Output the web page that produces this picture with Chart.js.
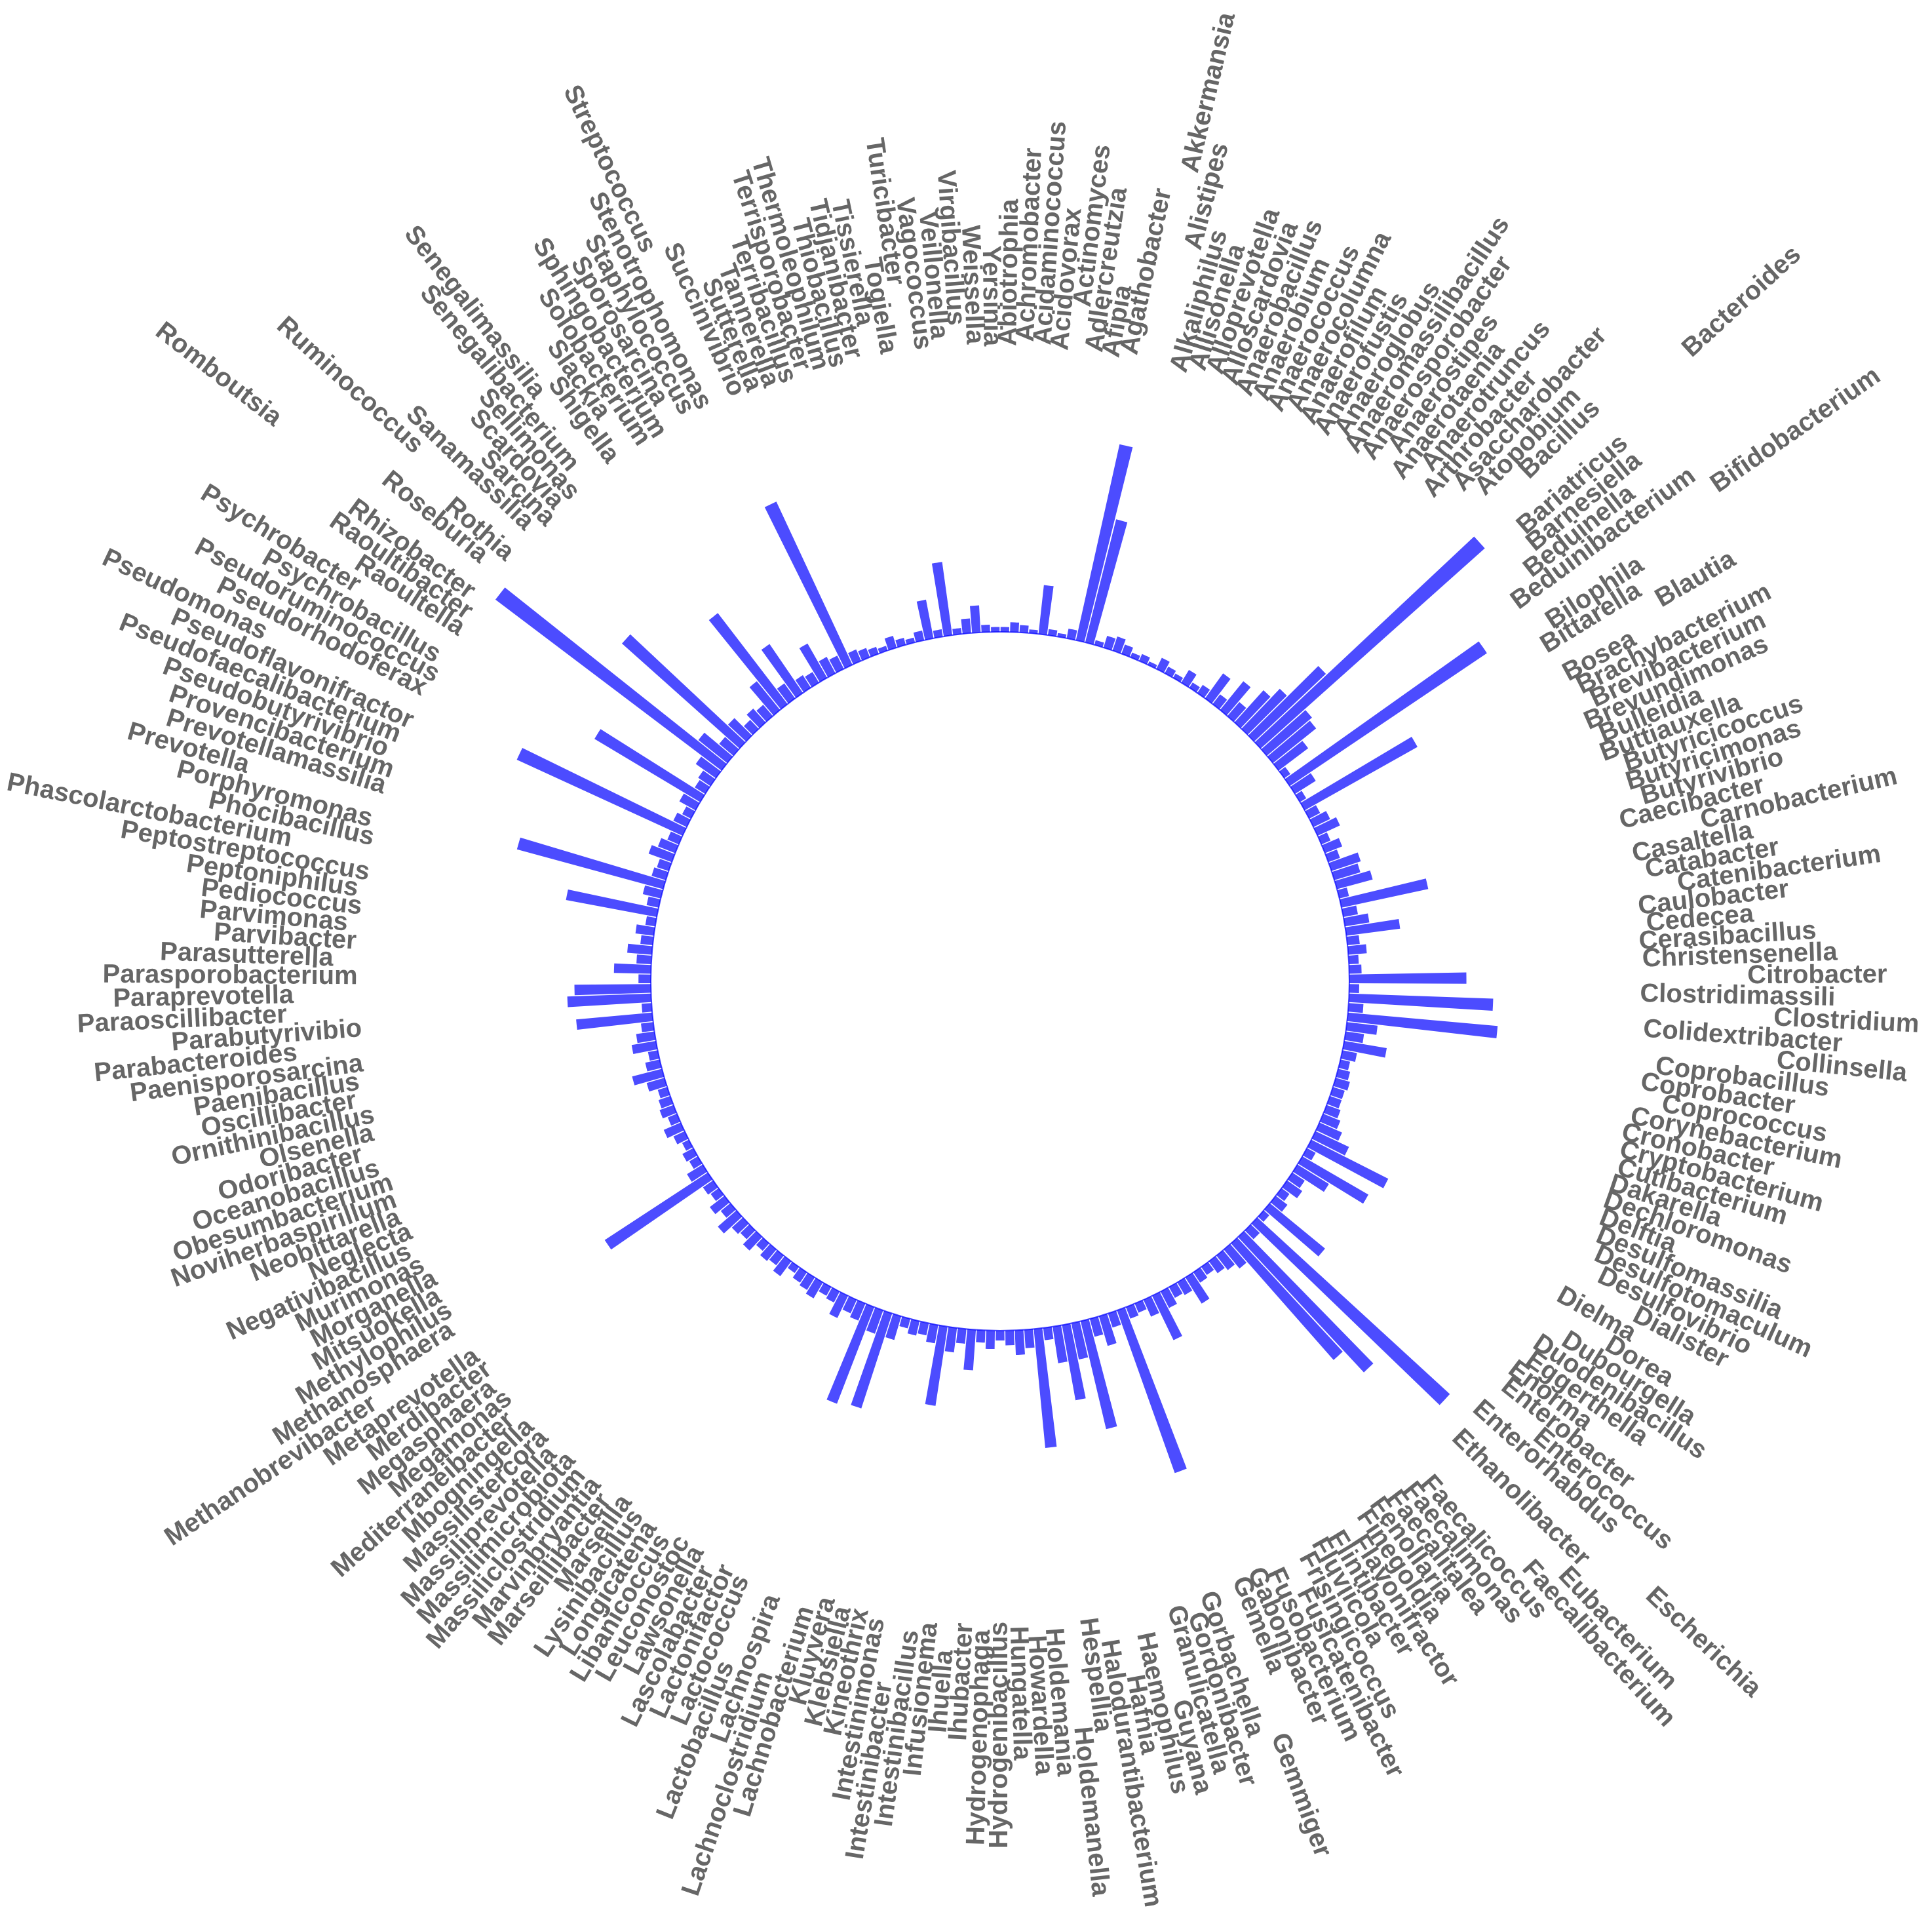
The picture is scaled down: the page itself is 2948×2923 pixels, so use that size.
<!DOCTYPE html>
<html>
<head>
<meta charset="utf-8">
<script src="https://cdn.jsdelivr.net/npm/chart.js@4.4.1/dist/chart.umd.min.js"></script>
<style>
html,body{margin:0;padding:0;background:#ffffff;}
#wrap{width:2948px;height:2923px;}
canvas{display:block;}
</style>
</head>
<body>
<div id="wrap"><canvas id="chart" width="2948" height="2923" style="width:2948px;height:2923px"></canvas></div>
<script>
// ---- data ----
const genera = [
"Abiotrophia","Achromobacter","Acidaminococcus","Acidovorax","Actinomyces","Adlercreutzia","Afipia","Agathobacter","Akkermansia","Alistipes",
"Alkaliphilus","Allisonella","Alloprevotella","Alloscardovia","Anaerobacillus","Anaerobium","Anaerococcus","Anaerocolumna","Anaerofilum","Anaerofustis",
"Anaeroglobus","Anaeromassilibacillus","Anaerosporobacter","Anaerostipes","Anaerotaenia","Anaerotruncus","Arthrobacter","Asaccharobacter","Atopobium","Bacillus",
"Bacteroides","Bariatricus","Barnesiella","Beduinella","Beduinibacterium","Bifidobacterium","Bilophila","Bittarella","Blautia","Bosea",
"Brachybacterium","Brevibacterium","Brevundimonas","Bulleidia","Buttiauxella","Butyricicoccus","Butyricimonas","Butyrivibrio","Caecibacter","Carnobacterium",
"Casaltella","Catabacter","Catenibacterium","Caulobacter","Cedecea","Cerasibacillus","Christensenella","Citrobacter","Clostridimassili","Clostridium",
"Colidextribacter","Collinsella","Coprobacillus","Coprobacter","Coprococcus","Corynebacterium","Cronobacter","Cryptobacterium","Cutibacterium","Dakarella",
"Dechloromonas","Delftia","Desulfomassilia","Desulfotomaculum","Desulfovibrio","Dialister","Dielma","Dorea","Dubourgella","Duodenibacillus",
"Eggerthella","Enorma","Enterobacter","Enterococcus","Enterorhabdus","Escherichia","Ethanolibacter","Eubacterium","Faecalibacterium","Faecalicoccus",
"Faecalimonas","Faecalitalea","Fenollaria","Finegoldia","Flavonifractor","Flintibacter","Fluviicola","Frisingicoccus","Fusicatenibacter","Fusobacterium",
"Gabonibacter","Gemella","Gemmiger","Gorbachella","Gordonibacter","Granulicatella","Guyana","Haemophilus","Hafnia","Halodurantibacterium",
"Hespellia","Holdemanella","Holdemania","Howardella","Hungatella","Hydrogenibacillus","Hydrogenophaga","Ihubacter","Ihuella","Infusionema",
"Intestinibacillus","Intestinibacter","Intestinimonas","Kineothrix","Klebsiella","Kluyvera","Lachnobacterium","Lachnoclostridium","Lachnospira","Lactobacillus",
"Lactococcus","Lactonifactor","Lascolabacter","Lawsonella","Leuconostoc","Libanicoccus","Longicatena","Lysinibacillus","Marseilla","Marseillibacter",
"Marvinbryantia","Massiliclostridium","Massilimicrobiota","Massiliprevotella","Massilistercora","Mbogningella","Mediterraneibacter","Megamonas","Megasphaera","Merdibacter",
"Metaprevotella","Methanobrevibacter","Methanosphaera","Methylophilus","Mitsuokella","Morganella","Murimonas","Negativibacillus","Neglecta","Neobittarella",
"Noviherbaspirillum","Obesumbacterium","Oceanobacillus","Odoribacter","Olsenella","Ornithinibacillus","Oscillibacter","Paenibacillus","Paenisporosarcina","Parabacteroides",
"Parabutyrivibio","Paraoscillibacter","Paraprevotella","Parasporobacterium","Parasutterella","Parvibacter","Parvimonas","Pediococcus","Peptoniphilus","Peptostreptococcus",
"Phascolarctobacterium","Phocibacillus","Porphyromonas","Prevotella","Prevotellamassilia","Provencibacterium","Pseudobutyrivibrio","Pseudofaecalibacterium","Pseudoflavonifractor","Pseudomonas",
"Pseudorhodoferax","Pseudoruminococcus","Psychrobacillus","Psychrobacter","Raoultella","Raoultibacter","Rhizobacter","Romboutsia","Roseburia","Rothia",
"Ruminococcus","Sanamassilia","Sarcina","Scardovia","Sellimonas","Senegalibacterium","Senegalimassilia","Shigella","Slackia","Solobacterium",
"Sphingobacterium","Sporosarcina","Staphylococcus","Stenotrophomonas","Streptococcus","Succinivibrio","Sutterella","Tannerella","Terribacillus","Terrisporobacter",
"Thermoleophilum","Thiobacillus","Tidjanibacter","Tissierella","Togiella","Turicibacter","Vagococcus","Veillonella","Virgibacillus","Weissella",
"Yersinia"
];

const abundance = [
0.4,0.8,0.6,0.3,4.0,0.5,0.3,0.8,16.3,10.3,
0.4,1.0,1.2,0.8,0.4,0.6,0.3,1.0,0.6,0.4,
1.2,0.5,0.8,2.5,1.0,3.0,1.5,3.5,4.5,8.0,
24.4,4.8,4.5,3.0,0.6,19.3,2.0,0.6,10.5,1.0,
1.5,2.0,0.8,1.5,1.0,2.5,2.2,3.0,0.8,7.2,
1.2,2.0,4.4,1.0,1.5,0.8,1.0,9.5,0.8,11.7,
1.2,12.2,2.5,1.5,3.5,1.2,0.8,1.0,1.2,1.0,
1.0,1.2,1.5,2.0,3.0,7.0,0.8,6.2,3.0,1.2,
1.5,0.8,1.2,5.8,0.6,21.2,1.0,15.0,12.6,2.0,
1.5,1.2,0.8,1.0,2.5,1.2,1.0,1.5,4.0,1.5,
0.8,1.0,14.0,1.2,2.5,1.5,9.0,3.0,6.2,3.0,
1.0,9.7,1.5,2.0,1.2,0.8,1.5,1.0,3.3,1.2,
2.0,6.5,1.5,1.0,1.2,0.8,2.0,8.1,2.0,8.4,
1.5,1.2,2.0,1.0,0.8,1.5,1.2,1.0,0.6,1.5,
1.0,1.2,0.8,1.5,1.0,1.2,2.0,1.0,1.5,0.8,
1.0,10.0,1.5,0.8,1.0,0.6,1.0,1.5,0.8,1.2,
1.0,0.8,1.5,2.5,1.2,0.8,2.0,1.5,1.0,6.2,
0.8,6.8,6.2,1.0,3.0,1.2,2.0,1.0,1.5,0.8,
7.5,1.0,1.5,12.3,1.2,1.0,2.0,1.5,1.0,14.8,
1.2,0.8,1.5,10.0,1.0,1.2,2.0,23.0,3.0,1.5,
12.8,2.0,1.0,1.5,1.2,3.0,9.3,1.5,4.8,1.2,
1.0,3.2,1.5,1.2,14.6,1.0,0.8,0.6,0.4,1.0,
0.6,0.4,0.8,3.2,0.6,6.0,0.5,1.2,2.2,0.6,
0.4
];

// ---- layout / style constants ----
const CENTER_X = 1526, CENTER_Y = 1497, RADIUS = 1400;
const R_MIN = -28.35, R_MAX = 46.12;   // value 0 sits on the inner circle
const LABEL_GAP = 22.8;                 // labels sit at value + gap
const BAR_FILL = 0.9;                   // share of each angular slot used by a bar
const BAR_COLOR = 'rgba(0,0,255,0.7)';
const TEXT_COLOR = '#666666';
const FONT = 'bold 40px "Liberation Sans", Arial, Helvetica, sans-serif';

const barGeometry = {
  id: 'barGeometry',
  afterDatasetsUpdate(chart) {
    const scale = chart.scales.r;
    const base = scale.getDistanceFromCenterForValue(0);
    chart.getDatasetMeta(0).data.forEach(arc => {
      const w = arc.endAngle - arc.startAngle;
      const pad = w * (1 - BAR_FILL) / 2;
      arc.startAngle += pad;
      arc.endAngle -= pad;
      arc.innerRadius = base;
      if (arc.outerRadius < base) arc.outerRadius = base;
    });
  }
};

const genusLabels = {
  id: 'genusLabels',
  afterDraw(chart) {
    const scale = chart.scales.r;
    const ctx = chart.ctx;
    const arcs = chart.getDatasetMeta(0).data;
    ctx.save();
    ctx.font = FONT;
    ctx.fillStyle = TEXT_COLOR;
    ctx.textBaseline = 'middle';
    arcs.forEach((arc, i) => {
      const mid = (arc.startAngle + arc.endAngle) / 2;
      const r = scale.getDistanceFromCenterForValue(abundance[i] + LABEL_GAP);
      const x = scale.xCenter + r * Math.cos(mid);
      const y = scale.yCenter + r * Math.sin(mid);
      let compass = (mid + Math.PI / 2) % (2 * Math.PI);
      if (compass < 0) compass += 2 * Math.PI;
      ctx.save();
      ctx.translate(x, y);
      if (compass > Math.PI) {
        ctx.rotate(mid + Math.PI);
        ctx.textAlign = 'right';
      } else {
        ctx.rotate(mid);
        ctx.textAlign = 'left';
      }
      ctx.fillText(genera[i], 0, 0);
      ctx.restore();
    });
    ctx.restore();
  }
};

new Chart(document.getElementById('chart'), {
  type: 'polarArea',
  data: {
    labels: genera,
    datasets: [{
      data: abundance,
      backgroundColor: BAR_COLOR,
      borderWidth: 0
    }]
  },
  options: {
    responsive: false,
    animation: false,
    devicePixelRatio: 1,
    plugins: { legend: { display: false }, tooltip: { enabled: false } },
    scales: {
      r: {
        min: R_MIN,
        max: R_MAX,
        startAngle: 0,
        z: 1,
        ticks: { display: false },
        pointLabels: { display: false },
        angleLines: { display: false },
        grid: {
          circular: true,
          lineWidth: 2,
          color: (c) => (c.tick && c.tick.value === 0) ? BAR_COLOR : 'rgba(0,0,0,0)'
        },
        afterBuildTicks: (s) => { s.ticks = [{ value: R_MIN }, { value: 0 }, { value: R_MAX }]; },
        afterFit: (s) => { s.xCenter = CENTER_X; s.yCenter = CENTER_Y; s.drawingArea = RADIUS; }
      }
    }
  },
  plugins: [barGeometry, genusLabels]
});
</script>
</body>
</html>
